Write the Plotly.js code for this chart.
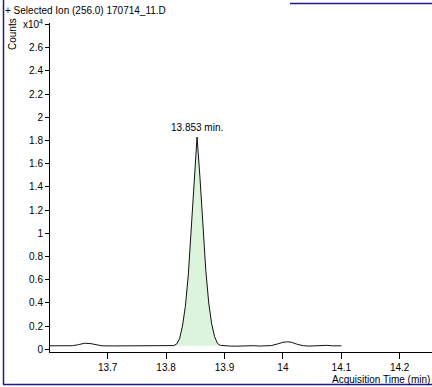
<!DOCTYPE html>
<html>
<head>
<meta charset="utf-8">
<script src="https://cdn.plot.ly/plotly-3.0.1.min.js"></script>
<style>
  html, body { margin: 0; padding: 0; background: #fff; }
  #chart { width: 432px; height: 387px; }
</style>
</head>
<body>
<div id="chart"></div>
<script>
// Acquisition time (min)
const retentionTime = [
  13.600, 13.620, 13.640, 13.650, 13.660, 13.670, 13.680, 13.690, 13.710, 13.740,
  13.770, 13.800, 13.808,
  13.813, 13.818, 13.823, 13.828, 13.833, 13.838, 13.843, 13.848, 13.853, 13.858,
  13.863, 13.868, 13.873, 13.878, 13.883, 13.888, 13.893,
  13.900, 13.910, 13.920, 13.930, 13.940, 13.950, 13.960, 13.970, 13.980, 13.990,
  14.000, 14.008, 14.015, 14.025, 14.035, 14.045, 14.055, 14.065, 14.075, 14.085, 14.100
];
// Counts (x10^4)
const abundance = [
  0.030, 0.030, 0.031, 0.040, 0.052, 0.050, 0.037, 0.030, 0.029, 0.029,
  0.029, 0.029, 0.030,
  0.032, 0.045, 0.090, 0.200, 0.370, 0.640, 1.020, 1.420, 1.830, 1.480,
  1.060, 0.680, 0.400, 0.220, 0.110, 0.050, 0.034,
  0.030, 0.028, 0.027, 0.030, 0.027, 0.031, 0.028, 0.028, 0.032, 0.045,
  0.060, 0.065, 0.060, 0.042, 0.031, 0.028, 0.030, 0.033, 0.034, 0.030, 0.030
];
// Integrated peak
const peakStart = 13.813;
const peakEnd = 13.893;
const peakBaseline = 0.03;
const peakLabel = "13.853 min.";
const peakTime = 13.853;

const xTickVals = [13.7, 13.8, 13.9, 14.0, 14.1, 14.2];
const xTickText = ["13.7", "13.8", "13.9", "14", "14.1", "14.2"];
const yTickVals = [0, 0.2, 0.4, 0.6, 0.8, 1.0, 1.2, 1.4, 1.6, 1.8, 2.0, 2.2, 2.4, 2.6, 2.8];
const yTickText = ["0", "0.2", "0.4", "0.6", "0.8", "1", "1.2", "1.4", "1.6", "1.8", "2", "2.2", "2.4", "2.6", "x10<sup>4</sup>"];

const titleText = "+ Selected Ion (256.0) 170714_11.D";
const xTitle = "Acquisition Time (min)";
const yTitle = "Counts";

// build peak region
const peakX = [], peakY = [];
retentionTime.forEach((t, i) => {
  if (t >= peakStart - 1e-9 && t <= peakEnd + 1e-9) { peakX.push(t); peakY.push(abundance[i]); }
});
const baseY = peakX.map(() => peakBaseline);
const peakTop = Math.max(...peakY);

const FONT = "Liberation Sans, Arial, sans-serif";
const W = 432, H = 387, ML = 50, MR = 0, MT = 23, MB = 35;
const PW = W - ML - MR, PH = H - MT - MB;
const px = v => (v - ML) / PW;          // pixel x -> paper x
const py = v => (H - MB - v) / PH;       // pixel y -> paper y
const border = "#1c1c86";

const traces = [
  { x: peakX, y: baseY, mode: "lines", line: { width: 0 }, hoverinfo: "skip", showlegend: false },
  { x: peakX, y: peakY, mode: "lines", line: { width: 0 }, fill: "tonexty", fillcolor: "#dcf4dc", hoverinfo: "skip", showlegend: false },
  { x: retentionTime, y: abundance, mode: "lines", line: { color: "#111", width: 1 }, showlegend: false }
];

const layout = {
  width: W, height: H,
  margin: { l: ML, r: MR, t: MT, b: MB, pad: 0 },
  paper_bgcolor: "#fff", plot_bgcolor: "#fff",
  font: { family: FONT, size: 10, color: "#000" },
  title: { text: titleText, font: { family: FONT, size: 10, color: "#000" },
           xref: "container", x: 5 / W, xanchor: "left",
           yref: "container", y: 1 - 10 / H, yanchor: "middle" },
  xaxis: { range: [13.6012, 14.2553], showgrid: false, zeroline: false,
           showline: true, linecolor: "#000", linewidth: 1,
           ticks: "outside", ticklen: 6, tickcolor: "#000", tickwidth: 1,
           tickmode: "array", tickvals: xTickVals, ticktext: xTickText,
           tickfont: { family: FONT, size: 10, color: "#000" } },
  yaxis: { range: [-0.0233, 2.813], showgrid: false, zeroline: false,
           showline: true, linecolor: "#000", linewidth: 1,
           ticks: "outside", ticklen: 4, tickcolor: "#000", tickwidth: 1,
           tickmode: "array", tickvals: yTickVals, ticktext: yTickText,
           tickfont: { family: FONT, size: 10, color: "#000" } },
  annotations: [
    { text: peakLabel, x: peakTime, y: peakTop, xref: "x", yref: "y",
      showarrow: false, yanchor: "bottom", yshift: 2, font: { family: FONT, size: 10, color: "#000" } },
    { text: xTitle, xref: "paper", yref: "paper", x: 1, xanchor: "right",
      y: py(380), yanchor: "middle", showarrow: false, font: { family: FONT, size: 10, color: "#000" } },
    { text: yTitle, xref: "paper", yref: "paper", x: px(12), y: py(34),
      textangle: -90, xanchor: "center", yanchor: "middle", showarrow: false,
      font: { family: FONT, size: 10, color: "#000" } }
  ],
  shapes: [
    { type: "line", xref: "paper", yref: "paper", x0: px(3.5), x1: px(3.5), y0: py(0), y1: py(384.5), line: { color: border, width: 1.5 } },
    { type: "line", xref: "paper", yref: "paper", x0: px(3), x1: px(432), y0: py(384.5), y1: py(384.5), line: { color: border, width: 1.5 } },
    { type: "line", xref: "paper", yref: "paper", x0: px(290), x1: px(432), y0: py(3.5), y1: py(3.5), line: { color: border, width: 1.5 } }
  ]
};

Plotly.newPlot("chart", traces, layout, { displayModeBar: false, staticPlot: true });
</script>
</body>
</html>
